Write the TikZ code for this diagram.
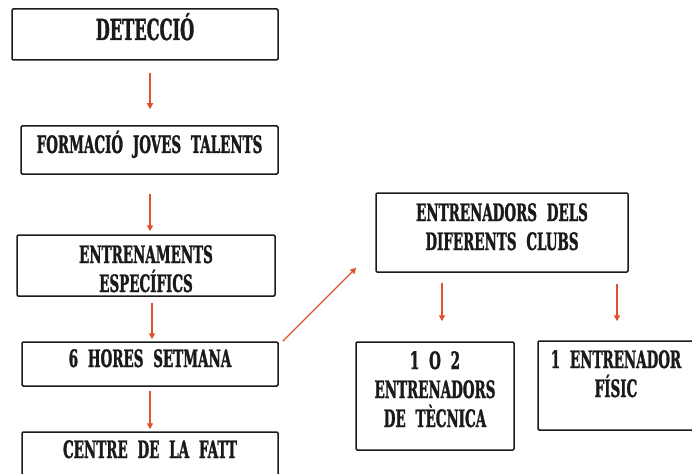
\documentclass[tikz,border=0pt]{standalone}
\usepackage{fontspec}
\usetikzlibrary{arrows.meta}
\newfontfamily\wfont[FakeStretch=0.56,WordSpace=2.1,FakeBold=1.2]{DejaVu Serif}
\definecolor{arrcol}{HTML}{E0522B}
\definecolor{inkcol}{HTML}{1A1A1A}
\tikzset{
  box/.style={draw=inkcol, line width=1.5pt, rounded corners=1.2pt, inner sep=0pt,
    align=center, text=inkcol, font=\wfont\bfseries\fontsize{24}{29}\selectfont},
  arr/.style={draw=arrcol, line width=1.3pt, -{Triangle[length=6pt,width=6pt]}},
}
\begin{document}
\begin{tikzpicture}[x=1pt,y=-1pt]
\useasboundingbox (0,0) rectangle (692,473);
\clip (0,0) rectangle (692,473);
% left column
\node[box, minimum width=266pt, minimum height=51pt, text height=11pt, text depth=0pt,
  font=\wfont\bfseries\fontsize{29}{34}\selectfont] (det) at (145,34.5) {DETECCIÓ};
\node[box, minimum width=257pt, minimum height=48pt, text height=6pt, text depth=0pt] (form) at (149.5,150) {FORMACIÓ JOVES TALENTS};
\node[box, minimum width=258pt, minimum height=61pt, text height=53pt, text depth=0pt] (entr) at (146,265.5) {ENTRENAMENTS\\ESPECÍFICS};
\node[box, minimum width=256pt, minimum height=44pt, text height=6pt, text depth=0pt] (hores) at (150,364) {6 HORES SETMANA};
\node[box, minimum width=256pt, minimum height=58pt, text height=0pt, text depth=6pt] (centre) at (150,461) {CENTRE DE LA FATT};
% right part
\node[box, minimum width=252pt, minimum height=79pt, text height=35pt, text depth=0pt] (clubs) at (502,232.5) {ENTRENADORS DELS\\DIFERENTS CLUBS};
\node[box, minimum width=158pt, minimum height=108pt, text height=62pt, text depth=0pt] (tecnica) at (435,396) {1 O 2\\ENTRENADORS\\DE TÈCNICA};
\node[box, minimum width=156pt, minimum height=89pt, text height=23pt, text depth=0pt] (fisic) at (616,385.5) {1 ENTRENADOR\\FÍSIC};
% connectors
\draw[arr, shorten <=12pt, shorten >=16pt] (det.south -| hores.south) -- (form.north -| hores.south);
\draw[arr, shorten <=19pt, shorten >=3pt] (form.south -| hores.south) -- (entr.north -| hores.south);
\draw[arr, shorten <=6pt, shorten >=2pt] ([xshift=2pt]entr.south -| hores.south) -- ([xshift=2pt]hores.north);
\draw[arr, shorten <=4pt, shorten >=2pt] (hores.south) -- (centre.north);
\draw[arr] ([xshift=4pt]hores.north east) -- ([xshift=-19pt,yshift=5pt]clubs.south west);
\draw[arr, shorten <=10pt, shorten >=20pt] ([xshift=7pt]clubs.south -| tecnica.north) -- ([xshift=7pt]tecnica.north);
\draw[arr, shorten <=11pt, shorten >=19pt] ([xshift=1pt]clubs.south -| fisic.north) -- ([xshift=1pt]fisic.north);
\end{tikzpicture}
\end{document}
